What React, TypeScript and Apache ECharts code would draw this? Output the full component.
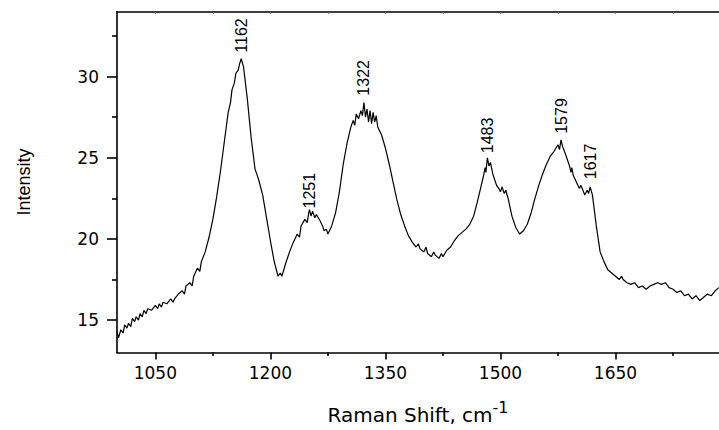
import React, { useEffect, useRef } from "react";
import * as echarts from "echarts";

const ramanShift = [
  1000, 1002, 1005, 1008, 1010, 1013, 1015, 1018, 1020, 1023,
  1025, 1028, 1030, 1033, 1035, 1038, 1040, 1045, 1050, 1053,
  1055, 1058, 1060, 1065, 1070, 1073, 1075, 1080, 1085, 1088,
  1090, 1095, 1098, 1100, 1105, 1108, 1110, 1115, 1120, 1125,
  1130, 1135, 1140, 1145, 1148, 1150, 1153, 1155, 1158, 1160,
  1162, 1165, 1170, 1175, 1180, 1183, 1185, 1190, 1195, 1200,
  1205, 1210, 1213, 1215, 1220, 1225, 1230, 1235, 1238, 1240,
  1245, 1248, 1250, 1251, 1253, 1255, 1258, 1260, 1265, 1268,
  1270, 1273, 1275, 1280, 1285, 1290, 1295, 1300, 1305, 1308,
  1310, 1312, 1315, 1318, 1320, 1322, 1324, 1326, 1328, 1330,
  1332, 1334, 1336, 1338, 1340, 1345, 1350, 1355, 1360, 1365,
  1370, 1375, 1380, 1385, 1390, 1393, 1395, 1400, 1403, 1405,
  1410, 1413, 1415, 1420, 1423, 1425, 1430, 1435, 1440, 1445,
  1450, 1455, 1460, 1465, 1470, 1475, 1478, 1480, 1481, 1483,
  1485, 1487, 1490, 1495, 1498, 1500, 1502, 1505, 1507, 1510,
  1515, 1520, 1525, 1530, 1535, 1540, 1545, 1550, 1555, 1560,
  1565, 1570, 1575, 1577, 1579, 1581, 1585, 1590, 1592, 1593,
  1595, 1600, 1603, 1605, 1610, 1613, 1615, 1617, 1620, 1625,
  1630, 1635, 1640, 1645, 1650, 1655, 1658, 1660, 1665, 1670,
  1675, 1680, 1685, 1690, 1695, 1700, 1705, 1710, 1715, 1720,
  1725, 1730, 1735, 1740, 1745, 1750, 1755, 1760, 1765, 1770,
  1775, 1780, 1785,
];

const intensity = [
  14.3, 13.9, 14.4, 14.2, 14.7, 14.5, 14.8, 14.6, 15.1, 14.9,
  15.2, 15.0, 15.4, 15.2, 15.6, 15.4, 15.7, 15.6, 15.9, 15.7,
  16.0, 15.8, 16.1, 16.0, 16.3, 16.1, 16.3, 16.6, 16.8, 16.6,
  17.1, 17.3, 17.1, 17.7, 18.2, 18.0, 18.6, 19.2, 20.1, 21.2,
  22.6, 24.2, 26.0, 27.8, 28.4, 29.2, 29.6, 30.2, 30.4, 30.8,
  31.1, 30.6, 28.6, 26.2, 24.3, 23.9, 23.6, 22.7, 21.3, 19.9,
  18.6, 17.7, 17.9, 17.7, 18.5, 19.2, 19.8, 20.3, 20.1, 20.8,
  21.2, 21.0, 21.6, 21.8, 21.4, 21.7, 21.3, 21.5, 21.1, 20.8,
  20.5, 20.6, 20.3, 20.8, 21.6, 22.9, 24.6, 25.9, 26.9, 27.3,
  27.0, 27.7, 27.4, 27.9, 27.6, 28.4, 27.5, 28.0, 27.2, 27.9,
  27.1, 27.8, 27.2, 27.6, 26.9, 26.4, 25.6, 24.6, 23.5, 22.4,
  21.5, 20.8, 20.2, 19.8, 19.5, 19.7, 19.4, 19.2, 19.5, 19.1,
  18.9, 19.2, 19.0, 18.8, 19.1, 18.9, 19.3, 19.5, 19.9, 20.2,
  20.4, 20.6, 20.9, 21.4, 22.3, 23.3, 23.9, 24.4, 24.1, 25.0,
  24.5, 24.7, 24.0, 23.3, 23.1, 22.9, 23.2, 22.8, 23.0, 22.5,
  21.4, 20.7, 20.3, 20.5, 20.9, 21.6, 22.5, 23.3, 24.0, 24.6,
  25.1, 25.4, 25.8, 25.5, 26.1, 25.7, 25.2, 24.5, 24.1, 24.4,
  23.9, 23.4, 23.1, 23.3, 22.7, 23.0, 22.8, 23.2, 22.7, 20.8,
  19.2, 18.6, 18.1, 17.9, 17.7, 17.5, 17.7, 17.5, 17.3, 17.2,
  17.3, 17.0, 17.1, 16.9, 17.1, 17.2, 17.3, 17.2, 17.3, 17.0,
  16.9, 16.7, 16.8, 16.5, 16.6, 16.3, 16.5, 16.2, 16.4, 16.6,
  16.5, 16.8, 17.0,
];

const peakShifts = [1162, 1251, 1322, 1483, 1579, 1617];
const peakLabelY = [31.2, 21.6, 28.55, 25.0, 26.2, 23.4];

const xMajorTicks = [1050, 1200, 1350, 1500, 1650];
const xMinorTicks = [1125, 1275, 1425, 1575, 1725];
const xTopTicks = [1050, 1125, 1200, 1275, 1350, 1425, 1500, 1575, 1650, 1725];
const yMajorTicks = [15, 20, 25, 30];
const yMinorTicks = [17.5, 22.5, 27.5, 32.5];

const X_MIN = 1000;
const X_MAX = 1785;
const Y_MIN = 13;
const Y_MAX = 34;

export default function App() {
  const ref = useRef<HTMLDivElement>(null);

  useEffect(() => {
    if (!ref.current) return;
    const chart = echarts.init(ref.current, null, { renderer: "svg" });
    const axisColor = "#000";
    const seriesData = ramanShift.map((x, i) => [x, intensity[i]]);

    chart.setOption({
      animation: false,
      backgroundColor: "#fff",
      grid: { left: 117, right: 0, top: 11.7, bottom: 69.3, containLabel: false },
      xAxis: [
        {
          type: "value",
          position: "bottom",
          min: X_MIN,
          max: X_MAX,
          axisLine: { show: true, onZero: false, lineStyle: { color: axisColor, width: 1.6 } },
          axisTick: { show: true, inside: false, length: 7, customValues: xMajorTicks, lineStyle: { color: axisColor, width: 1.6 } },
          axisLabel: {
            show: true,
            customValues: xMajorTicks,
            formatter: (v: number) => String(v),
            margin: 12,
            color: "#000",
            fontSize: 17,
            fontFamily: "DejaVu Sans",
          },
          splitLine: { show: false },
          name: "{a|Raman Shift, cm}{b|-1}",
          nameLocation: "middle",
          nameGap: 47,
          nameTextStyle: {
            color: "#000",
            rich: {
              a: { fontSize: 20, fontFamily: "DejaVu Sans", color: "#000" },
              b: { fontSize: 16, fontFamily: "DejaVu Sans", color: "#000", padding: [0, 0, 15, 0] },
            },
          },
        },
        {
          type: "value",
          position: "bottom",
          min: X_MIN,
          max: X_MAX,
          axisLine: { show: false, onZero: false },
          axisTick: { show: true, inside: false, length: 3.5, customValues: xMinorTicks, lineStyle: { color: axisColor, width: 1.6 } },
          axisLabel: { show: false },
          splitLine: { show: false },
        },
        {
          type: "value",
          position: "top",
          min: X_MIN,
          max: X_MAX,
          axisLine: { show: true, onZero: false, lineStyle: { color: axisColor, width: 1.6 } },
          axisTick: { show: true, inside: true, length: 2, customValues: xTopTicks, lineStyle: { color: "#555", width: 1 } },
          axisLabel: { show: false },
          splitLine: { show: false },
        },
      ],
      yAxis: [
        {
          type: "value",
          position: "left",
          min: Y_MIN,
          max: Y_MAX,
          axisLine: { show: true, onZero: false, lineStyle: { color: axisColor, width: 1.6 } },
          axisTick: { show: true, inside: false, length: 10, customValues: yMajorTicks, lineStyle: { color: axisColor, width: 1.6 } },
          axisLabel: {
            show: true,
            customValues: yMajorTicks,
            formatter: (v: number) => String(v),
            margin: 18,
            color: "#000",
            fontSize: 17,
            fontFamily: "DejaVu Sans",
          },
          splitLine: { show: false },
          name: "Intensity",
          nameLocation: "middle",
          nameGap: 84,
          nameTextStyle: { color: "#000", fontSize: 18, fontFamily: "Liberation Sans" },
        },
        {
          type: "value",
          position: "left",
          min: Y_MIN,
          max: Y_MAX,
          axisLine: { show: false, onZero: false },
          axisTick: { show: true, inside: false, length: 5, customValues: yMinorTicks, lineStyle: { color: axisColor, width: 1.6 } },
          axisLabel: { show: false },
          splitLine: { show: false },
        },
      ],
      series: [
        {
          type: "line",
          xAxisIndex: 0,
          yAxisIndex: 0,
          data: seriesData,
          showSymbol: false,
          symbol: "none",
          smooth: false,
          lineStyle: { color: "#000", width: 1.2 },
          markPoint: {
            symbol: "circle",
            symbolSize: 1,
            itemStyle: { color: "rgba(0,0,0,0)" },
            label: {
              show: true,
              position: "top",
              distance: 4,
              rotate: 90,
              align: "left",
              verticalAlign: "middle",
              color: "#000",
              fontSize: 16,
              fontFamily: "Liberation Sans Narrow, Liberation Sans",
              formatter: (p: any) => p.name,
            },
            data: peakShifts.map((x, i) => ({ name: String(x), coord: [x, peakLabelY[i]] })),
          },
        },
      ],
    });

    return () => chart.dispose();
  }, []);

  return (
    <div
      ref={ref}
      style={{ position: "absolute", left: 0, top: 0, width: 719, height: 430, background: "#fff" }}
    />
  );
}
